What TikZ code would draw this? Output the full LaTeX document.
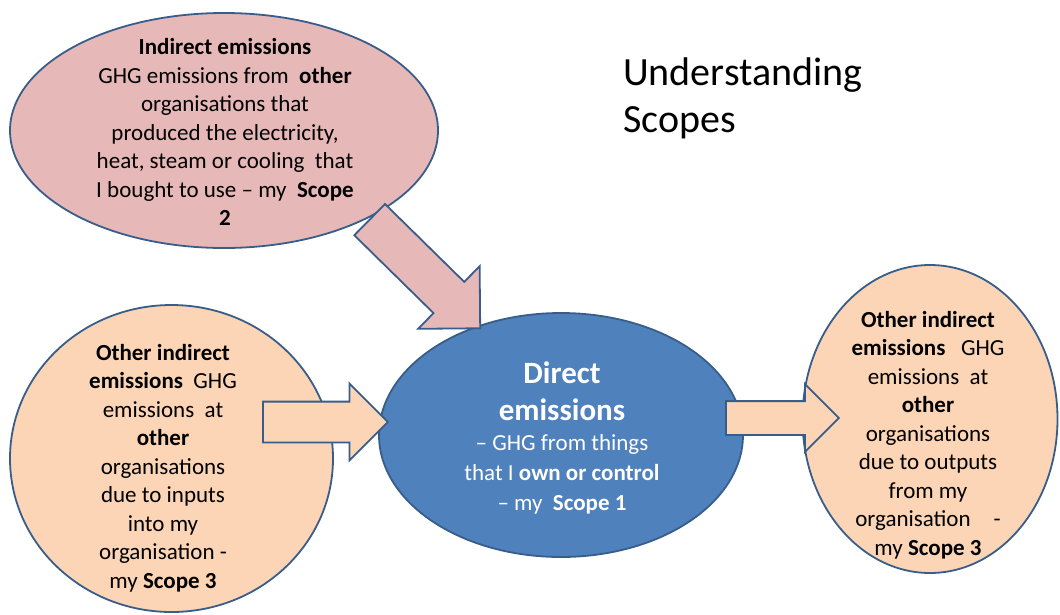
\documentclass[tikz,border=0pt]{standalone}
\usepackage{fontspec}
\setmainfont{Carlito}
\usepackage{tikz}
\usetikzlibrary{shapes.geometric, shapes.arrows, positioning}
\definecolor{pinkfill}{HTML}{E6B9B8}
\definecolor{peachfill}{HTML}{FBD5B5}
\definecolor{scopeblue}{HTML}{4F81BD}
\definecolor{edgeblue}{HTML}{385D8A}
\tikzset{bubble/.style={ellipse, draw=edgeblue, line width=1.8pt, inner sep=0pt, fill=#1}}
\tikzset{blockarrow/.style={single arrow, draw=edgeblue, line width=1.8pt, inner xsep=0pt, fill=#1, single arrow tip angle=90, single arrow head indent=0pt, anchor=tail}}
\tikzset{bodytext/.style={align=center, inner sep=0pt, font=\fontsize{23}{28.5}\selectfont}}
\begin{document}
\begin{tikzpicture}[x=1pt, y=-1pt]
            \useasboundingbox (0, 0) rectangle (1060, 614);
            % the four bubbles
            \node[bubble=pinkfill, minimum width=428pt, minimum height=235pt] (scopetwo) at (224, 130.5) {};
            \node[bubble=peachfill, minimum width=323pt, minimum height=307pt] (inputs) at (171.5, 458.5) {};
            \node[bubble=scopeblue, minimum width=364pt, minimum height=244pt] (direct) at (561, 435) {};
            \node[bubble=peachfill, minimum width=255pt, minimum height=308pt] (outputs) at (930, 419) {};
            % block arrows
            \node[blockarrow=pinkfill, rotate=-44.5, minimum height=155pt, inner ysep=21pt, single arrow head extend=22pt] (twoarrow) at (369, 219) {};
            \node[blockarrow=peachfill, minimum height=125pt, inner ysep=19.5pt, single arrow head extend=18pt] (inarrow) at (262, 422) {};
            \node[blockarrow=peachfill, minimum height=113pt, inner ysep=16pt, single arrow head extend=17pt] (outarrow) at (725, 418) {};
            % texts
            \node[bodytext] (twotext) at (225, 132) {\textbf{Indirect emissions}\\ GHG emissions from~~\textbf{other}\\ organisations that\\ produced the electricity,\\ heat, steam or cooling~~that\\ I bought to use – my~~\textbf{Scope}\\ \textbf{2}};
            \node[bodytext] (intext) at (163, 468) {\textbf{Other indirect}\\ \textbf{emissions}~~GHG\\ emissions~~at\\ \textbf{other}\\ organisations\\ due to inputs\\ into my\\ organisation -\\ my \textbf{Scope 3}};
            \node[bodytext] (outtext) at (928, 435) {\textbf{Other indirect}\\ \textbf{emissions}~~~GHG\\ emissions~~at\\ \textbf{other}\\ organisations\\ due to outputs\\ from my\\ organisation\quad -\\ my \textbf{Scope 3}};
            \node[bodytext, text=white, font=\fontsize{31}{37}\selectfont\bfseries] (dirhead) at (562, 391.5) {Direct\\ emissions};
            \node[bodytext, text=white, font=\fontsize{23}{30}\selectfont, below=13pt of dirhead] (dirtext) {– GHG from things\\ that I \textbf{own or control}\\ – my~~\textbf{Scope 1}};
            \node[align=left, inner sep=0pt, anchor=north west, font=\fontsize{40}{47}\selectfont] (title) at (623, 58) {Understanding\\ Scopes};
        \end{tikzpicture}
\end{document}
